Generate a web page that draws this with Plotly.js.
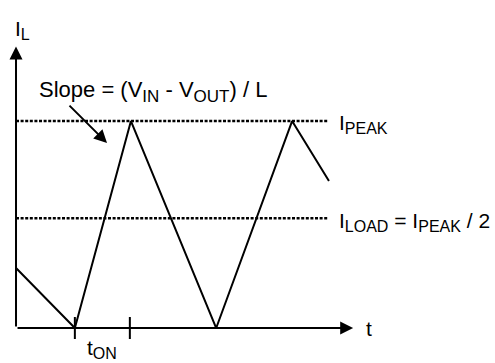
<!DOCTYPE html>
<html>
<head>
<meta charset="utf-8">
<script src="https://cdn.plot.ly/plotly-3.0.1.min.js"></script>
<style>
  html, body { margin: 0; padding: 0; background: #fff; }
  #chart { width: 495px; height: 363px; }
</style>
</head>
<body>
<div id="chart"></div>
<script>
// Inductor current waveform (time in t_ON units, current in I_PEAK units)
const waveT = [0, 1.07, 2.09, 3.64, 5.02, 5.69];
const waveI = [0.29, 0, 1.0, 0, 1.0, 0.71];

// Reference levels
const iPeak = 1.0;
const iLoad = 0.53;
const refLineT = [0, 5.67];

// t_ON marker positions on the time axis
const tOnMarks = [1.07, 2.07];

// Axis arrow tips
const tAxisEnd = 6.13;
const iAxisEnd = 1.36;

const FONT = 'Liberation Sans, Arial, Helvetica, sans-serif';
const SUB = (s, size) => '<sub><span style="font-size:' + (size || 16) + 'px">' + s + '</span></sub>';

const traces = [
  {
    x: refLineT, y: [iPeak, iPeak],
    type: 'scatter', mode: 'lines',
    line: { color: '#000', width: 2.5, dash: '3px,1.6px' }
  },
  {
    x: refLineT, y: [iLoad, iLoad],
    type: 'scatter', mode: 'lines',
    line: { color: '#000', width: 2.5, dash: '3px,1.6px' }
  },
  {
    x: waveT, y: waveI,
    type: 'scatter', mode: 'lines',
    line: { color: '#000', width: 2 }
  }
];

// tick marks for t_ON
const shapes = tOnMarks.map(t => ({
  type: 'line', xref: 'x', yref: 'y',
  x0: t, x1: t,
  ysizemode: 'pixel', yanchor: 0, y0: -11, y1: 11,
  line: { color: '#000', width: 2 }
}));

function arrow(x, y, ax, ay) {
  return {
    x: x, y: y, ax: ax, ay: ay, axref: 'x', ayref: 'y',
    text: '', showarrow: true,
    arrowhead: 2, arrowsize: 1.3, arrowwidth: 2, arrowcolor: '#000',
    standoff: 0, startstandoff: 0
  };
}

function label(text, x, y, xanchor, yshift, size) {
  return {
    x: x, y: y, text: text, showarrow: false,
    xanchor: xanchor, yanchor: 'middle', yshift: yshift || 0,
    font: { family: FONT, size: size || 21, color: '#000' }
  };
}

const annotations = [
  arrow(tAxisEnd, 0, 0, 0),
  arrow(0, iAxisEnd, 0, 0),
  arrow(1.655, 0.894, 0.945, 1.082),
  label('I' + SUB('L'), -0.06, 1.44, 'left'),
  label('Slope = (V' + SUB('IN', 17) + ' - V' + SUB('OUT', 17) + ') / L', 0.38, 1.15, 'left', -1, 22),
  label('I' + SUB('PEAK'), 5.84, iPeak, 'left', -3),
  label('I' + SUB('LOAD') + ' = I' + SUB('PEAK') + ' / 2', 5.84, iLoad, 'left', -4),
  label('t', 6.32, 0, 'left'),
  label('t' + SUB('ON'), (tOnMarks[0] + tOnMarks[1]) / 2, 0, 'center', -21)
];

const layout = {
  width: 495,
  height: 363,
  margin: { l: 0, r: 0, t: 0, b: 0 },
  paper_bgcolor: '#fff',
  plot_bgcolor: '#fff',
  showlegend: false,
  xaxis: { range: [-0.291, 8.709], visible: false, fixedrange: true },
  yaxis: { range: [-0.169, 1.585], visible: false, fixedrange: true },
  shapes: shapes,
  annotations: annotations
};

Plotly.newPlot('chart', traces, layout, { staticPlot: true, displayModeBar: false });
</script>
</body>
</html>
